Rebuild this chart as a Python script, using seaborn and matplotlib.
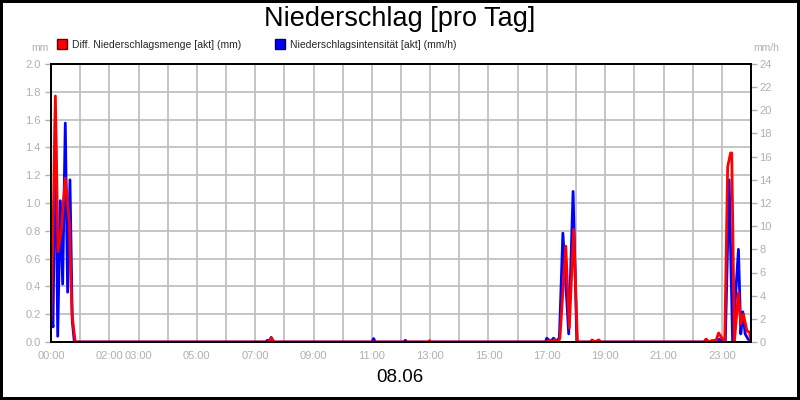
import matplotlib
matplotlib.use("Agg")
import matplotlib.pyplot as plt
from matplotlib.lines import Line2D
import seaborn as sns
import numpy as np

# Niederschlag 08.06
# hours of the day (0..24) and the values at those times
menge_t = [0.0, 0.083, 0.15, 0.24, 0.36, 0.49, 0.63, 0.72, 0.83,
           7.45, 7.55, 7.65, 12.93, 12.98, 13.03,
           17.0, 17.1, 17.2, 17.25, 17.4, 17.45, 17.65, 17.77, 17.92, 18.05,
           18.5, 18.55, 18.65, 18.78, 18.85,
           22.4, 22.46, 22.55, 22.65, 22.8, 22.89, 23.06, 23.1, 23.2, 23.3,
           23.34, 23.43, 23.57, 23.65, 23.74, 23.86, 23.95, 24.0]
menge_mm = [0.155, 0.95, 1.77, 0.65, 0.82, 1.18, 0.85, 0.2, 0.0,
            0.0, 0.03, 0.0, 0.0, 0.01, 0.0,
            0.0, 0.015, 0.0, 0.015, 0.0, 0.03, 0.69, 0.1, 0.81, 0.0,
            0.0, 0.015, 0.0, 0.015, 0.0,
            0.0, 0.02, 0.0, 0.01, 0.01, 0.065, 0.01, 0.02, 1.26, 1.36,
            1.36, 0.0, 0.355, 0.13, 0.2, 0.08, 0.07, 0.01]

intens_t = [0.0, 0.07, 0.15, 0.23, 0.32, 0.4, 0.49, 0.57, 0.65, 0.73, 0.8,
            7.35, 7.42, 7.5, 7.55, 7.62, 11.0, 11.06, 11.12, 12.1, 12.15, 12.2,
            16.95, 17.0, 17.12, 17.23, 17.32, 17.43, 17.55, 17.75, 17.9, 18.03,
            18.5, 18.55, 18.65, 18.78, 18.85,
            22.4, 22.46, 22.55, 22.92, 23.06, 23.12, 23.25, 23.37, 23.57,
            23.65, 23.72, 23.8, 23.9, 24.0]
intens_mmh = [2.6, 1.3, 20.0, 0.5, 12.2, 5.0, 18.9, 4.3, 14.0, 1.8, 0.0,
              0.0, 0.15, 0.1, 0.4, 0.0, 0.0, 0.3, 0.0, 0.0, 0.15, 0.0,
              0.0, 0.33, 0.0, 0.33, 0.05, 0.36, 9.4, 0.7, 13.0, 0.0,
              0.0, 0.12, 0.0, 0.12, 0.0,
              0.0, 0.24, 0.0, 0.24, 0.0, 0.1, 14.0, 0.0, 8.0,
              0.7, 2.6, 0.7, 0.24, 0.1]

hour_ticks = list(range(25))
hour_labels = ["00:00", "", "02:00", "03:00", "", "05:00", "", "07:00", "", "09:00",
               "", "11:00", "", "13:00", "", "15:00", "", "17:00", "", "19:00",
               "", "21:00", "", "23:00", ""]

sns.set_style("white")
plt.rcParams['font.family'] = ['Liberation Sans', 'DejaVu Sans']

grey = "#b0b0b0"
gridc = "#c0c0c0"

fig = plt.figure(figsize=(8, 4), dpi=100, facecolor="white", edgecolor="black", linewidth=3)
ax = fig.add_axes([51/800, 58/400, 700/800, 278/400])
ax2 = ax.twinx()

# grid drawn on the lower axes so the lines sit above it
for h in hour_ticks:
    ax2.axvline(h, color=gridc, lw=1.3, zorder=0)
for v in np.arange(0.2, 2.0, 0.2):
    ax2.axhline(v * 12, color=gridc, lw=1.3, zorder=0)

sns.lineplot(x=intens_t, y=intens_mmh, ax=ax2, color="#0000ff", lw=2.0)
sns.lineplot(x=menge_t, y=menge_mm, ax=ax, color="#ff0000", lw=2.0)

# red on top of blue
ax.set_zorder(ax2.get_zorder() + 1)
ax.patch.set_visible(False)

ax.set_xlim(0, 24)
ax.set_ylim(0, 2.0)
ax2.set_ylim(0, 24)
ax.set_xticks(hour_ticks)
ax.set_xticklabels(hour_labels)
ax.set_yticks(np.arange(0, 2.01, 0.2))
ax.set_yticklabels([f"{v:.1f}" for v in np.arange(0, 2.01, 0.2)])
ax2.set_yticks(range(0, 25, 2))

for a in (ax, ax2):
    for s in a.spines.values():
        s.set_color("black")
        s.set_linewidth(1.3)
ax.tick_params(axis="both", colors=grey, labelcolor=grey, labelsize=8, length=4, width=1, direction="out")
ax.tick_params(axis="x", length=5, pad=1.5)
ax2.tick_params(axis="y", colors=grey, labelcolor=grey, labelsize=8, length=4, width=1, direction="out", pad=2)
ax.set_xlabel("")
ax.set_ylabel("")
ax2.set_ylabel("")

fig.text(0.5, 1 - 19/400, "Niederschlag [pro Tag]", ha="center", va="center", fontsize=19.5, color="black")
fig.text(40/800, 1 - 48/400, "mm", ha="center", va="center", fontsize=7.5, color=grey)
fig.text(766/800, 1 - 48/400, "mm/h", ha="center", va="center", fontsize=7.5, color=grey)
fig.text(0.5, 1 - 378/400, "08.06", ha="center", va="center", fontsize=13.5, color="black")

handles = [Line2D([], [], marker="s", linestyle="", markersize=7, markerfacecolor="#ff0000", markeredgecolor="#600000"),
           Line2D([], [], marker="s", linestyle="", markersize=7, markerfacecolor="#0000ff", markeredgecolor="#000060")]
fig.legend(handles, ["Diff. Niederschlagsmenge [akt] (mm)", "Niederschlagsintensität [akt] (mm/h)"],
           loc="center left", bbox_to_anchor=(58/800, 1 - 45/400), ncol=2, frameon=False,
           fontsize=7.5, handlelength=0.8, handletextpad=0.5, columnspacing=3.4, borderpad=0, borderaxespad=0)

fig.savefig("out.png", dpi=100)
